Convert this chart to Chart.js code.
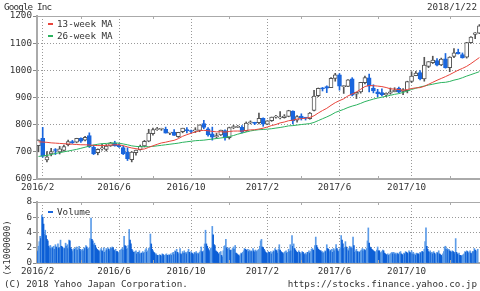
<!DOCTYPE html>
<html>
<head>
<meta charset="utf-8">
<script src="https://cdn.jsdelivr.net/npm/chart.js@4.4.1/dist/chart.umd.min.js"></script>
<style>
  body { margin: 0; background: #fff; }
  #wrap { position: relative; width: 480px; height: 291px; overflow: hidden;
          font-family: "DejaVu Sans Mono", monospace; font-size: 9.25px; color: #333; }
  #priceBox { position: absolute; left: 0; top: 0; width: 480px; height: 200px; }
  #volBox { position: absolute; left: 0; top: 190px; width: 480px; height: 101px; }
  .txt { position: absolute; white-space: nowrap; line-height: 12px; }
  .leg i { display: inline-block; width: 5px; height: 2px; vertical-align: middle; margin: 0 4px 2px 0; }
</style>
</head>
<body>
<div id="wrap">
  <div id="priceBox"><canvas id="chartPrice" width="480" height="200"></canvas></div>
  <div id="volBox"><canvas id="chartVolume" width="480" height="101"></canvas></div>

  <div class="txt" style="left:4px; top:1px; letter-spacing:-0.85px;">Google Inc</div>
  <div class="txt" style="right:3px; top:1px;">2018/1/22</div>
  <div class="txt leg" style="left:48px; top:18px;"><i style="background:#e8453c"></i>13-week MA</div>
  <div class="txt leg" style="left:48px; top:30px;"><i style="background:#2bb35f"></i>26-week MA</div>
  <div class="txt leg" style="left:48px; top:206px;"><i style="background:#1a66dd"></i>Volume</div>
  <div class="txt" style="left:-23px; top:242px; width:60px; text-align:center; transform:rotate(-90deg);">(x1000000)</div>
  <div class="txt" style="left:4px; top:278px;">(C) 2018 Yahoo Japan Corporation.</div>
  <div class="txt" style="right:3px; top:278px;">https://stocks.finance.yahoo.co.jp</div>
</div>

<script>
// weekly candles, week 0 = 2016/1/25 ... week 104 = 2018/1/22
const open = [723,750,670,692,707,700,705,726,736,736,
  750,743,760,717,697,711,709,722,731,724,
  716,698,671,697,708,722,739,767,782,783,
  783,769,773,756,774,782,776,777,779,804,
  785,766,755,762,778,752,789,790,790,778,
  807,807,807,823,802,815,828,825,826,830,
  850,817,832,825,822,852,907,933,940,936,
  970,983,940,941,969,912,921,955,972,934,
  921,918,910,916,921,934,922,925,959,980,
  992,968,1014,1028,1036,1020,1042,1010,1051,1066,
  1058,1048,1102,1132,1137];
const high = [744,790,701,713,712,720,725,743,742,750,
  752,757,770,725,711,729,727,735,739,730,
  722,715,701,706,725,742,783,787,790,787,
  791,772,782,772,787,789,780,789,799,816,
  789,791,768,780,781,791,798,797,797,810,
  814,809,843,825,815,828,834,848,837,853,
  851,833,840,826,845,926,935,937,943,973,
  989,988,944,966,973,920,956,979,986,947,
  930,932,917,935,936,938,933,960,995,996,
  999,1048,1032,1052,1043,1045,1062,1050,1080,1078,
  1064,1103,1124,1139,1168];
const low = [700,680,663,685,690,692,702,722,731,733,
  735,740,716,690,689,706,703,720,721,716,
  690,668,663,688,706,718,737,761,779,779,
  769,763,760,753,770,770,770,771,774,785,
  758,743,750,760,743,747,785,789,770,775,
  803,800,803,794,800,812,824,821,824,829,
  803,809,817,817,820,851,903,924,918,936,
  960,927,915,940,906,896,916,950,921,917,
  903,906,903,912,921,918,910,917,955,980,
  965,960,1010,1025,1016,1017,1008,995,1047,1060,
  1045,1045,1100,1117,1135];
const close = [743,684,682,701,705,711,719,738,734,750,
  739,753,719,692,709,711,721,733,722,719,
  692,675,699,706,720,739,769,782,783,786,
  769,771,760,772,787,777,775,778,799,790,
  762,754,760,780,751,789,791,790,772,806,
  808,805,823,802,814,828,829,828,832,852,
  814,830,825,824,843,905,934,932,934,971,
  983,942,940,965,909,919,956,973,942,924,
  914,910,915,921,927,920,928,959,979,990,
  968,1019,1032,1038,1019,1041,1010,1049,1064,1060,
  1046,1102,1122,1138,1164];

const ma13 = [737,736,735,733,732,731,730,729,728,727,
  726,726,725,724,723,723,724,725,726,726,
  722.6,718.1,714.2,711.6,709.1,710.6,716.5,722.2,727.7,732.7,
  735.5,739.2,742.4,748.5,757.2,763.2,768.5,772.9,777.5,779.2,
  777.6,775.4,773.4,774.2,772.7,774.9,776.4,776.6,776.2,778.6,
  780.9,781.4,783.9,787.0,791.6,796.8,800.6,806.5,809.8,814.5,
  816.4,820.8,822.3,823.5,826.5,832.8,842.9,852.0,860.2,871.1,
  881.0,888.5,895.2,905.8,912.9,920.2,930.3,940.3,944.2,943.4,
  942.0,940.2,936.8,932.1,930.9,929.4,926.5,929.4,933.0,935.6,
  936.2,941.2,948.5,956.0,963.4,970.1,976.9,984.3,992.4,1000.5,
  1007.2,1014.7,1024.8,1035.9,1047.1];
const ma26 = [683,685,687,690,694,697,700,703,706,709,
  713,717,721,725,728,730,731,732,733,732,
  729,726,722,720,719,719,719,720,722,724,
  726,728,730,732,735,737,739,741,742,743,
  745,747,749,751,753,756,760,765,769,773,
  776.9,779.5,781.5,782.3,783.5,785.1,787.4,789.6,792.4,795.5,
  796.5,798.5,800.5,802.2,803.9,808.3,815.0,821.8,828.5,835.8,
  844.8,850.7,856.4,863.1,868.4,872.7,878.4,884.9,889.5,894.2,
  898.0,901.2,904.5,908.0,911.7,914.3,918.7,923.7,929.6,934.0,
  938.8,942.2,945.9,949.0,952.3,955.0,956.0,959.1,963.9,967.5,
  972.8,978.8,984.2,989.6,995.1];

// daily volume (x1,000,000), five trading days per week, last week one day
const volume = [
  1.6,1.5,2.2,2.8,3.5, 3.2,6.3,6.0,5.1,3.8, 4.3,3.6,3.1,2.9,2.2, 2.0,2.3,1.9,2.1,2.0,
  2.2,1.8,2.4,2.1,1.9, 2.5,2.0,1.9,3.0,2.2, 2.1,1.8,2.0,1.9,2.6, 2.2,2.4,1.9,3.0,2.9,
  2.0,1.8,1.5,1.7,1.9, 1.8,2.0,2.1,1.7,1.9, 2.2,1.8,1.5,1.7,1.8, 1.6,2.0,1.9,2.3,2.1,
  1.8,1.9,2.0,3.2,5.9, 3.1,2.9,2.4,2.6,2.3, 2.0,1.8,1.7,1.6,1.5, 1.7,1.9,1.6,1.5,2.0,
  1.4,1.6,1.9,1.7,2.0, 1.8,1.6,2.0,1.9,2.1, 2.0,1.7,1.6,1.8,1.5, 1.5,1.3,1.4,1.6,1.7,
  1.8,2.0,1.7,3.5,2.3, 2.2,1.8,1.9,2.3,4.4, 3.0,2.5,1.8,1.6,1.4, 1.4,1.5,1.6,1.2,1.4,
  1.4,1.6,1.2,1.3,1.3, 1.5,1.3,1.4,1.7,1.9, 1.4,1.6,1.9,2.0,3.8, 2.5,1.8,1.6,1.4,1.3,
  1.1,1.2,1.0,0.9,1.0, 1.1,1.0,0.9,1.2,1.1, 0.9,1.0,1.1,1.2,1.0, 1.0,1.1,1.0,1.2,1.0,
  1.3,1.4,1.1,1.6,1.5, 1.8,1.4,1.2,1.3,1.9, 1.2,1.1,1.5,1.3,1.6, 1.3,1.4,1.2,1.5,1.8,
  1.4,1.2,1.5,1.3,1.2, 1.1,1.4,1.3,1.5,1.2, 1.3,1.2,1.4,1.6,2.1, 1.5,1.3,1.6,2.5,4.3,
  2.5,2.2,1.9,1.7,1.5, 1.9,2.0,4.8,3.7,2.4, 2.3,1.6,1.5,1.4,1.2, 1.2,1.4,1.5,1.0,0.8,
  1.6,2.2,2.3,3.1,2.0, 1.8,1.9,2.0,1.7,1.6, 1.7,1.9,2.1,1.8,2.3, 1.3,1.2,1.1,1.0,0.9,
  1.1,1.3,1.2,1.4,1.6, 1.9,1.8,1.7,1.6,1.8, 1.5,1.7,1.5,1.6,1.5, 1.9,1.6,1.4,1.7,1.5,
  1.6,1.7,1.8,2.2,2.9, 3.1,2.1,2.0,1.8,1.6, 1.4,1.3,1.2,1.5,1.4, 1.3,1.5,1.2,1.4,1.6,
  1.5,1.9,1.7,1.6,1.3, 1.8,2.4,1.7,1.5,1.4, 1.3,1.2,1.4,1.5,1.6, 1.3,1.4,1.8,1.5,2.4,
  1.6,3.6,2.2,2.5,1.9, 1.7,1.5,1.4,1.3,1.6, 1.4,1.2,1.3,1.5,1.4, 1.2,1.1,1.3,1.1,1.4,
  1.4,1.6,1.3,1.5,1.8, 1.9,1.7,1.6,2.3,3.4, 2.3,2.0,1.8,1.7,1.6, 1.6,1.4,1.5,1.3,1.4,
  1.6,1.5,2.4,1.9,1.8, 1.5,1.7,1.6,1.8,1.4, 1.9,1.6,1.8,2.4,1.9, 1.6,1.5,1.8,2.0,3.6,
  3.0,2.5,1.9,2.0,2.8, 2.1,1.7,1.9,1.6,2.2, 2.0,2.1,1.9,3.4,2.3, 1.4,1.6,1.8,1.5,1.4,
  1.5,1.4,1.6,1.7,1.9, 1.6,1.8,1.7,1.6,1.9, 2.9,4.6,2.6,2.1,2.0, 1.8,1.7,1.6,1.5,1.4,
  1.5,1.7,2.1,1.6,1.6, 1.3,1.4,1.5,1.7,1.6, 1.3,1.2,1.1,1.0,1.2, 1.0,1.1,1.2,1.3,1.4,
  1.2,1.4,1.2,1.3,1.1, 1.3,1.2,1.1,1.4,1.5, 1.2,1.1,1.0,1.3,1.2, 1.5,1.4,1.3,1.2,1.6,
  1.4,1.3,1.6,1.2,1.4, 1.1,1.2,1.0,1.3,1.2, 1.2,1.1,1.4,1.3,1.5, 1.5,1.4,1.8,2.8,4.6,
  2.2,1.8,1.5,1.4,1.6, 1.3,1.4,1.2,1.5,1.3, 1.1,1.2,1.4,1.3,1.6, 1.2,1.1,1.0,0.8,1.2,
  1.5,2.1,2.2,1.8,1.9, 1.7,1.8,1.6,1.5,1.4, 1.6,1.5,1.4,1.2,3.2, 1.4,1.2,1.1,1.3,1.0,
  1.0,0.9,1.0,1.1,1.2, 1.5,1.4,1.6,1.5,1.3, 1.4,1.6,1.3,1.2,1.5, 1.5,1.9,1.7,1.4,1.6,
  1.8];

// x axis: week index of the first week of each month shown
const tickWeeks = [1, 19, 36, 54, 71, 88];
const tickLabels = ['2016/2', '2016/6', '2016/10', '2017/2', '2017/6', '2017/10'];
const minorWeeks = [10, 27, 45, 62, 80, 97];

const blue = '#1a66dd';
const gray = '#555';
const red = '#e8453c';
const green = '#2bb35f';
const gridColor = '#999';
const axisColor = '#aaa';
const font = { family: 'DejaVu Sans Mono', size: 9.25 };

const up = close.map((c, i) => c >= open[i]);

// shared x axis (linear over week index)
function xAxis(height) {
    return {
        type: 'linear',
        min: -0.344,
        max: 104.14,
        offset: false,
        afterFit: s => { s.height = height; },
        afterBuildTicks: s => { s.ticks = tickWeeks.map(v => ({ value: v })); },
        ticks: {
            color: '#333',
            font: font,
            padding: 3,
            labelOffset: -5,
            maxRotation: 0,
            autoSkip: false,
            callback: v => tickLabels[tickWeeks.indexOf(v)]
        },
        grid: { color: gridColor, drawTicks: false, offset: false },
        border: { color: axisColor, width: 2, dash: [1, 2] }
    };
}

// top frame line + small minor month ticks
const frame = {
    id: 'frame',
    afterDraw(chart) {
        const { ctx, chartArea: a, scales: { x } } = chart;
        ctx.save();
        ctx.strokeStyle = axisColor;
        ctx.lineWidth = 1;
        ctx.beginPath();
        ctx.moveTo(a.left, a.top + 0.5);
        ctx.lineTo(a.right, a.top + 0.5);
        minorWeeks.forEach(w => {
            const px = Math.round(x.getPixelForValue(w)) + 0.5;
            ctx.moveTo(px, a.top);
            ctx.lineTo(px, a.top + 3);
            ctx.moveTo(px, a.bottom);
            ctx.lineTo(px, a.bottom - 3);
        });
        ctx.stroke();
        ctx.restore();
    }
};

new Chart(document.getElementById('chartPrice'), {
    type: 'bar',
    data: {
        datasets: [{
            // wicks
            data: high.map((h, i) => ({ x: i, y: [low[i], h] })),
            backgroundColor: up.map(u => u ? gray : blue),
            barThickness: 1,
            grouped: false,
            order: 3
        }, {
            // bodies
            data: open.map((o, i) => ({ x: i, y: [o, close[i]] })),
            backgroundColor: up.map(u => u ? '#fff' : blue),
            borderColor: up.map(u => u ? gray : blue),
            borderWidth: 1,
            borderSkipped: false,
            minBarLength: 1,
            barThickness: 4,
            grouped: false,
            order: 2
        }, {
            type: 'line',
            label: '13-week MA',
            data: ma13.map((v, i) => ({ x: i, y: v })),
            borderColor: red,
            borderWidth: 1,
            pointRadius: 0,
            order: 1
        }, {
            type: 'line',
            label: '26-week MA',
            data: ma26.map((v, i) => ({ x: i, y: v })),
            borderColor: green,
            borderWidth: 1,
            pointRadius: 0,
            order: 1
        }]
    },
    options: {
        responsive: false,
        animation: false,
        events: [],
        layout: { padding: { top: 16, left: 0, right: 0, bottom: 0 } },
        plugins: { legend: { display: false }, tooltip: { enabled: false } },
        scales: {
            x: xAxis(21),
            y: {
                min: 600,
                max: 1200,
                beginAtZero: false,
                afterFit: s => { s.width = 37; },
                ticks: { stepSize: 100, color: '#333', font: font, padding: 1, callback: v => String(v) },
                grid: { color: gridColor, tickLength: 4, tickColor: '#888', tickBorderDash: [] },
                border: { color: axisColor, width: 2, dash: [1, 2] }
            }
        }
    },
    plugins: [frame]
});

new Chart(document.getElementById('chartVolume'), {
    type: 'bar',
    data: {
        datasets: [{
            label: 'Volume',
            data: volume.map((v, k) => ({ x: Math.floor(k / 5) + (k % 5 - 2) * 0.2, y: v })),
            backgroundColor: volume.map((v, k) => (k > 0 && v > volume[k - 1]) ? '#5b9be8' : '#0d5fd6'),
            barThickness: 1,
            grouped: false
        }]
    },
    options: {
        responsive: false,
        animation: false,
        events: [],
        layout: { padding: { top: 12, left: 0, right: 0, bottom: 0 } },
        plugins: { legend: { display: false }, tooltip: { enabled: false } },
        scales: {
            x: xAxis(28),
            y: {
                min: 0,
                max: 8,
                afterFit: s => { s.width = 37; },
                ticks: { stepSize: 2, color: '#333', font: font, padding: 1, callback: v => String(v) },
                grid: { color: gridColor, tickLength: 4, tickColor: '#888', tickBorderDash: [] },
                border: { color: axisColor, width: 2, dash: [1, 2] }
            }
        }
    },
    plugins: [frame]
});
</script>
</body>
</html>
